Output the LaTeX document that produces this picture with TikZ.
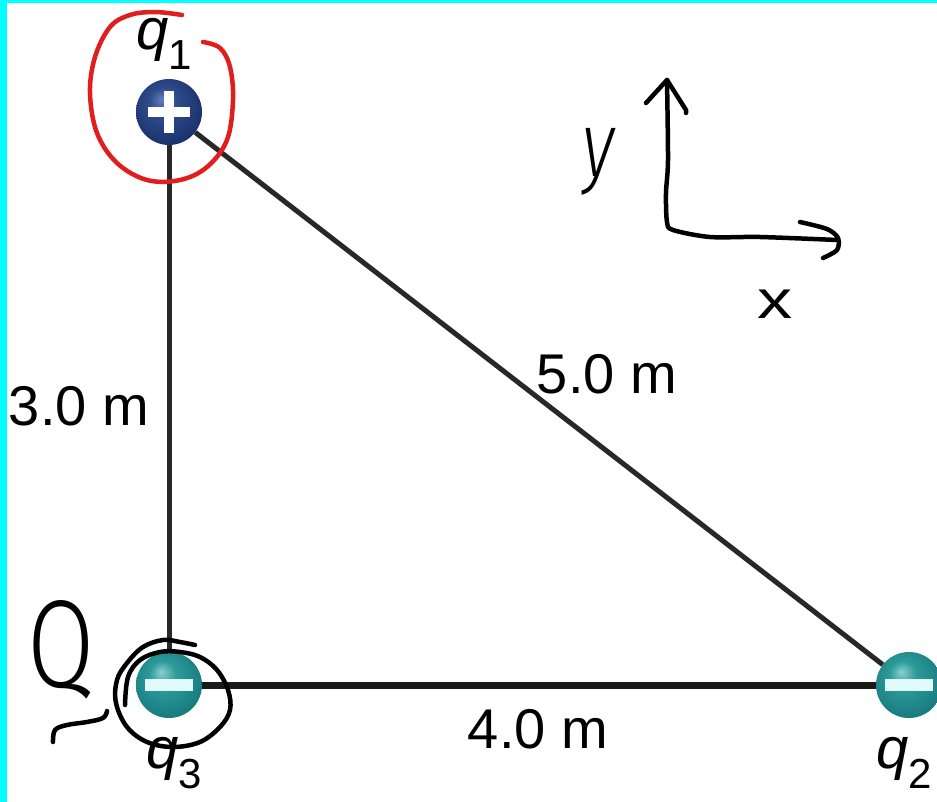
\documentclass[tikz,border=0pt]{standalone}
\usepackage{fontspec}
\setmainfont{Liberation Sans}
\newfontfamily\handfont{Fira Sans Light}
\definecolor{bordercyan}{RGB}{0,255,255}
\definecolor{inkred}{RGB}{225,30,30}
\definecolor{bondgray}{RGB}{40,40,40}
\definecolor{minuscol}{RGB}{225,250,250}
\definecolor{nA}{RGB}{100,128,185}
\definecolor{nB}{RGB}{48,76,140}
\definecolor{nC}{RGB}{26,52,110}
\definecolor{nD}{RGB}{12,30,78}
\definecolor{tA}{RGB}{140,205,205}
\definecolor{tB}{RGB}{45,155,155}
\definecolor{tC}{RGB}{25,125,128}
\definecolor{tD}{RGB}{12,95,100}
\pgfdeclareradialshading{navyball}{\pgfpoint{-6bp}{10bp}}{color(0bp)=(nA); color(10bp)=(nB); color(28bp)=(nC); color(50bp)=(nD)}
\pgfdeclareradialshading{tealball}{\pgfpoint{-6bp}{10bp}}{color(0bp)=(tA); color(10bp)=(tB); color(28bp)=(tC); color(50bp)=(tD)}
\newcommand{\qlab}[1]{{\itshape q}\raisebox{-20pt}{\fontsize{42}{42}\selectfont #1}}
\begin{document}
\begin{tikzpicture}[x=1pt,y=-1pt,
  lbl/.style={inner sep=0pt, anchor=base, font=\fontsize{56}{60}\selectfont},
  qlbl/.style={inner sep=0pt, anchor=base west, font=\fontsize{58}{60}\selectfont},
  charge/.style={circle, inner sep=0pt, minimum size=66pt},
  bond/.style={draw=bondgray, line width=5pt},
  ink/.style={line width=4.5pt, line cap=round, line join=round},
  hand/.style={inner sep=0pt},
]
\useasboundingbox (0,0) rectangle (937,802);
\fill[white] (0,0) rectangle (937,802);
\fill[bordercyan] (0,0) rectangle (7,802);
\fill[bordercyan] (0,0) rectangle (937,3);

% charges
\node[charge, shading=navyball] (q1) at (169,112) {};
\node[charge, shading=tealball] (q3) at (169,685) {};
\node[charge, shading=tealball] (q2) at (909,685) {};

% bonds
\draw[bond] (q1) -- (q3);
\draw[bond] (q1) -- (q2);
\draw[bond, line width=7pt, draw=black!90] (q3) -- (q2);

% signs
\fill[white] ([xshift=-21pt,yshift=-5pt]q1.center) rectangle ([xshift=21pt,yshift=5pt]q1.center);
\fill[white] ([xshift=-5pt,yshift=-21pt]q1.center) rectangle ([xshift=5pt,yshift=21pt]q1.center);
\fill[minuscol] ([xshift=-24pt,yshift=-6pt]q3.center) rectangle ([xshift=24pt,yshift=6pt]q3.center);
\fill[minuscol] ([xshift=-24pt,yshift=-6pt]q2.center) rectangle ([xshift=24pt,yshift=6pt]q2.center);

% labels
\node[lbl] (l3) at (79,425) {3.0 m};
\node[lbl] (l5) at (607,393) {5.0 m};
\node[lbl] (l4) at (538,748) {4.0 m};
\node[qlbl] (n1) at (136,50) {\qlab{1}};
\node[qlbl] (n3) at (146,768) {\qlab{3}};
\node[qlbl] (n2) at (876,768) {\qlab{2}};

% handwritten annotations
\draw[ink, draw=inkred] plot[smooth, tension=0.6] coordinates {(182,15) (155,12) (130,15) (110,27) (95,57) (90,93) (97,133) (117,163) (147,180) (180,180) (207,167) (227,140) (233,100) (230,67) (220,48) (203,42)};
\draw[ink] plot[smooth, tension=0.6] coordinates {(125,705) (128,677) (140,660) (160,652) (180,652) (200,657) (217,670) (228,690) (230,710) (220,727) (200,742) (173,747) (147,742) (127,727) (116,703) (117,680) (127,663) (143,647) (163,640) (180,642) (195,645)};
\draw[ink] plot[smooth, tension=0.6] coordinates {(53,742) (55,730) (67,725) (87,722) (103,718) (107,711)};

% axes
\draw[ink] plot[smooth, tension=0.5] coordinates {(667,80) (668,160) (666,193) (667,222) (673,230) (710,237) (760,237) (837,240)};
\draw[ink] (646,103) -- (667,80) -- (686,110) -- (686,113);
\draw[ink] plot[smooth, tension=0.5] coordinates {(800,222) (827,229) (838,238) (837,250) (823,258)};
\node[hand] (hy) at (599,162) {\handfont\fontsize{92}{92}\selectfont\itshape\scalebox{0.75}[1]{y}};
\node[hand] (hx) at (775,304) {\fontsize{54}{54}\selectfont\scalebox{1.3}[1]{x}};
\node[hand] (hq) at (61,650) {\handfont\fontsize{125}{125}\selectfont\scalebox{0.78}[1]{Q}};
\end{tikzpicture}
\end{document}
